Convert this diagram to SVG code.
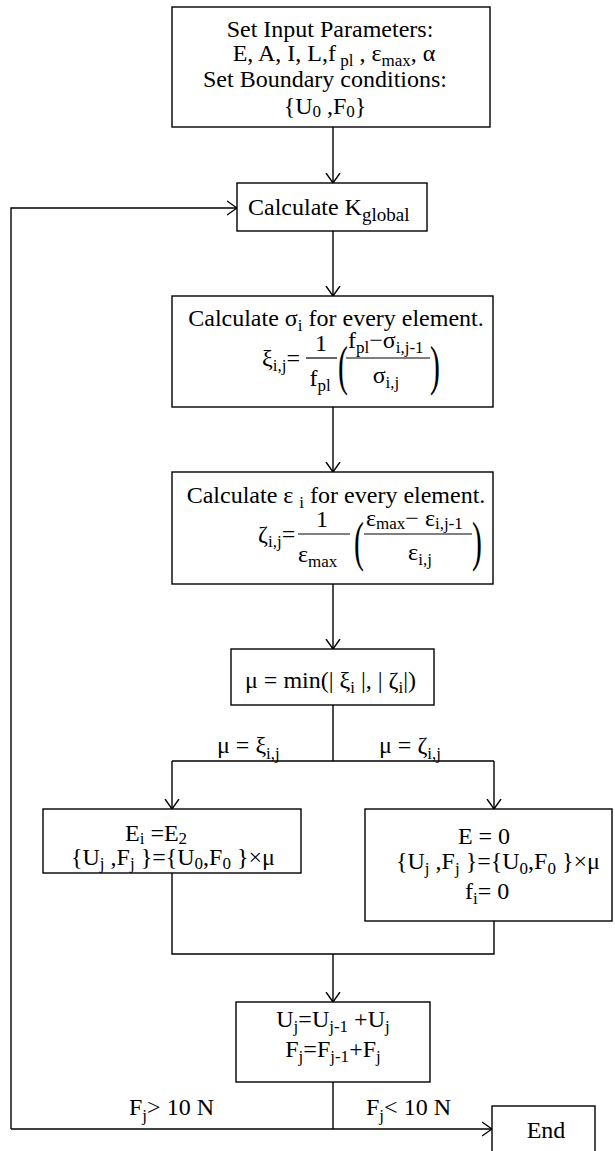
<svg xmlns="http://www.w3.org/2000/svg" width="615" height="1151" viewBox="0 0 615 1151">
<style>
.t{font-family:"Liberation Serif","Times New Roman",serif;font-size:24px;fill:#000;white-space:pre}
.s{font-size:17px}
.box{fill:#fff;stroke:#000;stroke-width:1.4}
.ln{fill:none;stroke:#000;stroke-width:1.4}
.bar{stroke:#000;stroke-width:1.2}
</style>
<defs>
<marker id="arr" markerUnits="userSpaceOnUse" viewBox="0 0 10 16" refX="10" refY="8" markerWidth="10" markerHeight="16" orient="auto">
<path d="M0,1 L10,8 L0,15" fill="none" stroke="#000" stroke-width="1.4"/>
</marker>
</defs>
<rect width="615" height="1151" fill="#fff"/>
<g id="connectors">
<path class="ln" d="M333,127 V183" marker-end="url(#arr)"/>
<path class="ln" d="M333,231 V296" marker-end="url(#arr)"/>
<path class="ln" d="M333,407 V472" marker-end="url(#arr)"/>
<path class="ln" d="M333,584 V649" marker-end="url(#arr)"/>
<path class="ln" d="M333,705 V761 M172,761 H494"/>
<path class="ln" d="M172,761 V809" marker-end="url(#arr)"/>
<path class="ln" d="M494,761 V809" marker-end="url(#arr)"/>
<path class="ln" d="M172,873 V954 H494 V921"/>
<path class="ln" d="M333,954 V1002" marker-end="url(#arr)"/>
<path class="ln" d="M333,1082 V1129"/>
<path class="ln" d="M11,1129 H492" marker-end="url(#arr)"/>
<path class="ln" d="M11,1129 V208 H237" marker-end="url(#arr)"/>
<text class="t" x="217" y="753">μ = ξ<tspan class="s" dy="6">i,j</tspan></text>
<text class="t" x="379" y="753">μ = ζ<tspan class="s" dy="6">i,j</tspan></text>
<text class="t" x="129" y="1115">F<tspan class="s" dy="6">j</tspan><tspan dy="-6">&gt; 10 N</tspan></text>
<text class="t" x="366" y="1115">F<tspan class="s" dy="6">j</tspan><tspan dy="-6">&lt; 10 N</tspan></text>
</g>
<g id="input">
<rect class="box" x="172" y="7" width="318" height="120"/>
<text class="t" x="330" y="37" text-anchor="middle">Set Input Parameters:</text>
<text class="t" x="334" y="61" text-anchor="middle">E, A, I, L,f<tspan class="s" dy="5"> pl</tspan><tspan dy="-5"> , ε</tspan><tspan class="s" dy="5">max</tspan><tspan dy="-5">, α</tspan></text>
<text class="t" x="325" y="87" text-anchor="middle">Set Boundary conditions:</text>
<text class="t" x="325" y="114" text-anchor="middle">{U<tspan class="s" dy="3">0</tspan><tspan dy="-3"> ,F</tspan><tspan class="s" dy="3">0</tspan><tspan dy="-3">}</tspan></text>
</g>
<g id="kglobal">
<rect class="box" x="237" y="183" width="190" height="48"/>
<text class="t" x="248" y="215">Calculate K<tspan class="s" dy="6" style="font-size:19px">global</tspan></text>
</g>
<g id="sigma">
<rect class="box" x="172" y="296" width="321" height="111"/>
<text class="t" x="336" y="326" text-anchor="middle">Calculate σ<tspan class="s" dy="5">i</tspan><tspan dy="-5"> for every element.</tspan></text>
<text class="t" x="262" y="366">ξ<tspan class="s" dy="5">i,j</tspan><tspan dy="-5">=</tspan></text>
<text class="t" x="321" y="351" text-anchor="middle">1</text>
<line class="bar" x1="306" y1="358" x2="337" y2="358"/>
<text class="t" x="320" y="386" text-anchor="middle">f<tspan class="s" dy="5">pl</tspan></text>
<text class="t" transform="translate(338,384) scale(0.55,1)" style="font-size:54px">(</text>
<text class="t" x="348" y="348">f<tspan class="s" dy="5">pl</tspan><tspan dy="-5">−σ</tspan><tspan class="s" dy="5">i,j-1</tspan></text>
<line class="bar" x1="346" y1="358" x2="430" y2="358"/>
<text class="t" x="386" y="383" text-anchor="middle">σ<tspan class="s" dy="5">i,j</tspan></text>
<text class="t" transform="translate(430,384) scale(0.55,1)" style="font-size:54px">)</text>
</g>
<g id="epsilon">
<rect class="box" x="172" y="472" width="321" height="112"/>
<text class="t" x="336" y="503" text-anchor="middle">Calculate ε <tspan class="s" dy="5">i</tspan><tspan dy="-5"> for every element.</tspan></text>
<text class="t" x="258" y="542">ζ<tspan class="s" dy="5">i,j</tspan><tspan dy="-5">=</tspan></text>
<text class="t" x="322" y="527" text-anchor="middle">1</text>
<line class="bar" x1="298" y1="534" x2="350" y2="534"/>
<text class="t" x="298" y="562">ε<tspan class="s" dy="5">max</tspan></text>
<text class="t" transform="translate(354,560) scale(0.55,1)" style="font-size:54px">(</text>
<text class="t" x="366" y="526">ε<tspan class="s" dy="3">max</tspan><tspan dy="-3">− ε</tspan><tspan class="s" dy="3">i,j-1</tspan></text>
<line class="bar" x1="364" y1="534" x2="472" y2="534"/>
<text class="t" x="420" y="560" text-anchor="middle">ε<tspan class="s" dy="5">i,j</tspan></text>
<text class="t" transform="translate(472,560) scale(0.55,1)" style="font-size:54px">)</text>
</g>
<g id="mu">
<rect class="box" x="231" y="649" width="203" height="56"/>
<text class="t" x="245" y="688">μ = min(| ξ<tspan class="s" dy="5">i</tspan><tspan dy="-5"> |, | ζ</tspan><tspan class="s" dy="5">i</tspan><tspan dy="-5">|)</tspan></text>
</g>
<g id="left-branch">
<rect class="box" x="43" y="809" width="258" height="64"/>
<text class="t" x="125" y="841">E<tspan class="s" dy="3">i</tspan><tspan dy="-3"> =E</tspan><tspan class="s" dy="3">2</tspan></text>
<text class="t" x="71" y="865">{U<tspan class="s" dy="4">j</tspan><tspan dy="-4"> ,F</tspan><tspan class="s" dy="4">j</tspan><tspan dy="-4"> }={U</tspan><tspan class="s" dy="4">0</tspan><tspan dy="-4">,F</tspan><tspan class="s" dy="4">0</tspan><tspan dy="-4"> }×μ</tspan></text>
</g>
<g id="right-branch">
<rect class="box" x="365" y="809" width="247" height="112"/>
<text class="t" x="484" y="844" text-anchor="middle">E = 0</text>
<text class="t" x="396" y="869">{U<tspan class="s" dy="5">j</tspan><tspan dy="-5"> ,F</tspan><tspan class="s" dy="5">j</tspan><tspan dy="-5"> }={U</tspan><tspan class="s" dy="5">0</tspan><tspan dy="-5">,F</tspan><tspan class="s" dy="5">0</tspan><tspan dy="-5"> }×μ</tspan></text>
<text class="t" x="465" y="899">f<tspan class="s" dy="5">i</tspan><tspan dy="-5">= 0</tspan></text>
</g>
<g id="update">
<rect class="box" x="236" y="1002" width="194" height="80"/>
<text class="t" x="333" y="1027" text-anchor="middle">U<tspan class="s" dy="5">j</tspan><tspan dy="-5">=U</tspan><tspan class="s" dy="5">j-1</tspan><tspan dy="-5"> +U</tspan><tspan class="s" dy="5">j</tspan></text>
<text class="t" x="333" y="1057" text-anchor="middle">F<tspan class="s" dy="5">j</tspan><tspan dy="-5">=F</tspan><tspan class="s" dy="5">j-1</tspan><tspan dy="-5">+F</tspan><tspan class="s" dy="5">j</tspan></text>
</g>
<g id="end">
<rect class="box" x="492" y="1106" width="103" height="60"/>
<text class="t" x="546" y="1138" text-anchor="middle">End</text>
</g>
</svg>
